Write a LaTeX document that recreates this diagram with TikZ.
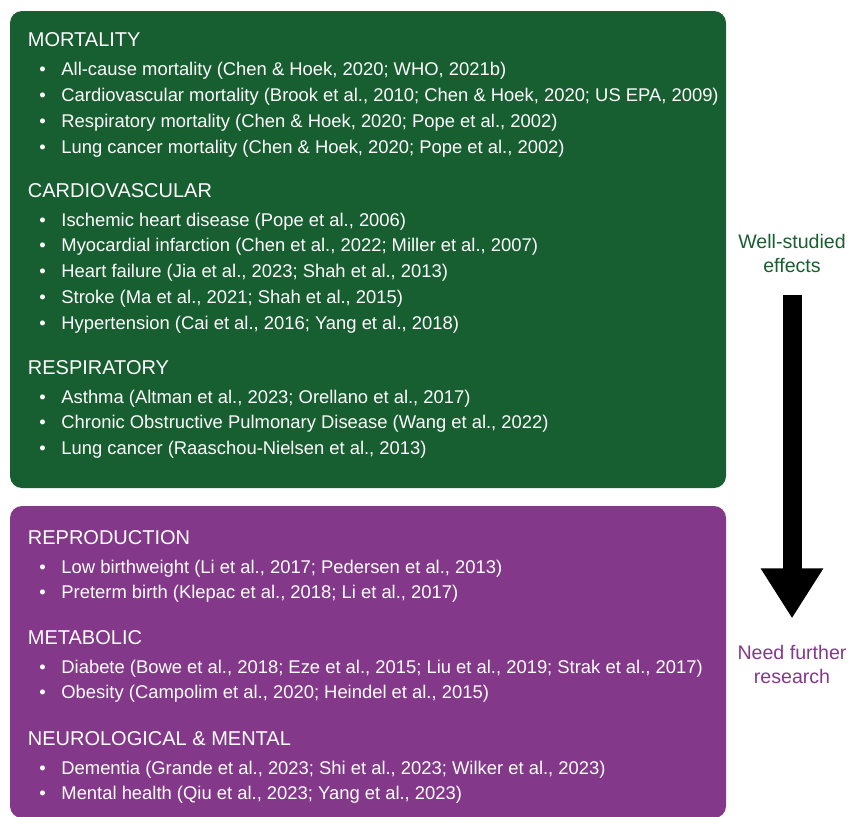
\documentclass[tikz,border=0pt]{standalone}
\usepackage{fontspec}
\setmainfont{Liberation Sans}
\usetikzlibrary{positioning, arrows.meta}
\definecolor{studied}{RGB}{23,94,48}
\definecolor{further}{RGB}{132,56,138}
\newcommand{\dotitem}{\textbullet\hspace{7.8pt}}
\tikzset{
    panel/.style={rounded corners=6pt},
    head/.style={
        text=white,
        font=\fontsize{10}{12}\selectfont,
        inner sep=0pt,
        text height=10pt,
        text depth=3pt,
        anchor=base west,
    },
    entry/.style={
        text=white,
        font=\fontsize{9.2}{11}\selectfont,
        inner sep=0pt,
        text height=9pt,
        text depth=3.5pt,
        anchor=north west,
    },
    side/.style={
        font=\fontsize{9.8}{12}\selectfont,
        align=center,
        inner sep=0pt,
    },
    flow/.style={
        line width=9.5pt,
        -{Triangle[length=25pt, width=29.5pt]},
    }
}

\begin{document}
\begin{tikzpicture}[x=0.5pt, y=-0.5pt, node distance=0pt]
   \useasboundingbox (0,0) rectangle (850,816);
   \fill[panel, studied] (10,11) rectangle (726,488);
   \fill[panel, further] (10,506) rectangle (726,818);
   % well-studied effects
   \node[head] (mort) at (27.5,46.7) {MORTALITY};
   \node[below right=2.15pt and 5.75pt of mort.south west, entry] (m1) {\dotitem All-cause mortality (Chen \& Hoek, 2020; WHO, 2021b)};
   \node[below=of m1.south west, entry] (m2) {\dotitem Cardiovascular mortality (Brook et al., 2010; Chen \& Hoek, 2020; US EPA, 2009)};
   \node[below=of m2.south west, entry] (m3) {\dotitem Respiratory mortality (Chen \& Hoek, 2020; Pope et al., 2002)};
   \node[below=of m3.south west, entry] (m4) {\dotitem Lung cancer mortality (Chen \& Hoek, 2020; Pope et al., 2002)};
   \node[head] (cardio) at (27.5,197) {CARDIOVASCULAR};
   \node[below right=2.15pt and 5.75pt of cardio.south west, entry] (c1) {\dotitem Ischemic heart disease (Pope et al., 2006)};
   \node[below=of c1.south west, entry] (c2) {\dotitem Myocardial infarction (Chen et al., 2022; Miller et al., 2007)};
   \node[below=of c2.south west, entry] (c3) {\dotitem Heart failure (Jia et al., 2023; Shah et al., 2013)};
   \node[below=of c3.south west, entry] (c4) {\dotitem Stroke (Ma et al., 2021; Shah et al., 2015)};
   \node[below=of c4.south west, entry] (c5) {\dotitem Hypertension (Cai et al., 2016; Yang et al., 2018)};
   \node[head] (resp) at (27.5,374) {RESPIRATORY};
   \node[below right=2.15pt and 5.75pt of resp.south west, entry] (r1) {\dotitem Asthma (Altman et al., 2023; Orellano et al., 2017)};
   \node[below=of r1.south west, entry] (r2) {\dotitem Chronic Obstructive Pulmonary Disease (Wang et al., 2022)};
   \node[below=of r2.south west, entry] (r3) {\dotitem Lung cancer (Raaschou-Nielsen et al., 2013)};
   % need further research
   \node[head] (repro) at (27.5,544) {REPRODUCTION};
   \node[below right=2.15pt and 5.75pt of repro.south west, entry] (p1) {\dotitem Low birthweight (Li et al., 2017; Pedersen et al., 2013)};
   \node[below=of p1.south west, entry] (p2) {\dotitem Preterm birth (Klepac et al., 2018; Li et al., 2017)};
   \node[head] (metab) at (27.5,644) {METABOLIC};
   \node[below right=2.15pt and 5.75pt of metab.south west, entry] (b1) {\dotitem Diabete (Bowe et al., 2018; Eze et al., 2015; Liu et al., 2019; Strak et al., 2017)};
   \node[below=of b1.south west, entry] (b2) {\dotitem Obesity (Campolim et al., 2020; Heindel et al., 2015)};
   \node[head] (neuro) at (27.5,745) {NEUROLOGICAL \& MENTAL};
   \node[below right=2.15pt and 5.75pt of neuro.south west, entry] (n1) {\dotitem Dementia (Grande et al., 2023; Shi et al., 2023; Wilker et al., 2023)};
   \node[below=of n1.south west, entry] (n2) {\dotitem Mental health (Qiu et al., 2023; Yang et al., 2023)};
   % side labels
   \node[side, text=studied] (well) at (792,253) {Well-studied\\effects};
   \node[side, text=further] (need) at (792,664) {Need further\\research};
   \draw[flow, shorten <=11pt, shorten >=13pt] (well) -- (need);
\end{tikzpicture}
\end{document}
